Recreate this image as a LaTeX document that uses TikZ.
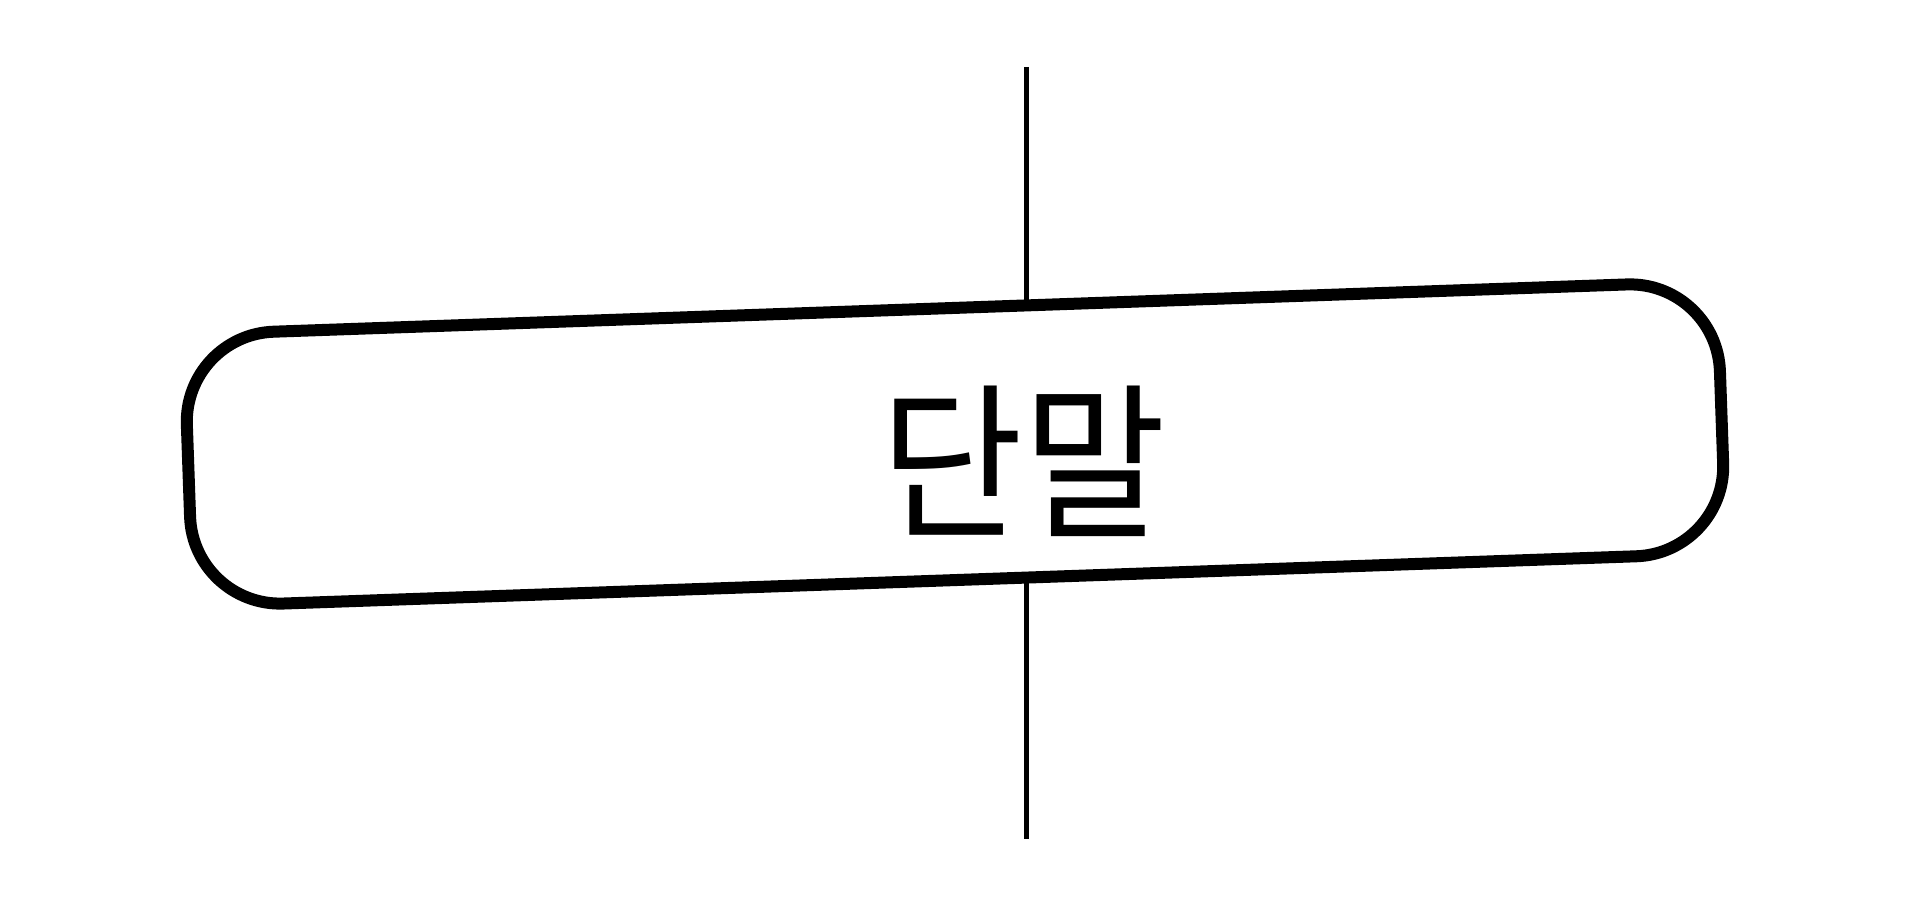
\documentclass[tikz,border=0pt]{standalone}
\usepackage{fontspec}
\newfontfamily\kofont{Noto Sans CJK KR}
\usetikzlibrary{positioning, backgrounds}

\begin{document}
\begin{tikzpicture}[
    terminal/.style={rectangle, draw, line width=1.2mm, rounded corners=0.9cm, fill=white,
        minimum width=15.34cm, minimum height=2.72cm, rotate=2},
    flowline/.style={line width=0.5mm},
]

\useasboundingbox (0,0) rectangle (19.2,9.24);

% Nodes
\node[terminal] (term) at (9.55, 4.80) {};
\node[font=\kofont\fontsize{48}{52}\selectfont, inner sep=0pt, xscale=0.92] (label) at (10.23, 4.63) {단말};

% Line ends
\coordinate (top) at (10.26, 8.57);
\coordinate (bottom) at (10.26, 0.85);

% Lines
\begin{scope}[on background layer]
    \draw[flowline] (top) -- (top |- term.center);
    \draw[flowline] (bottom) -- (bottom |- term.center);
\end{scope}

\end{tikzpicture}
\end{document}
